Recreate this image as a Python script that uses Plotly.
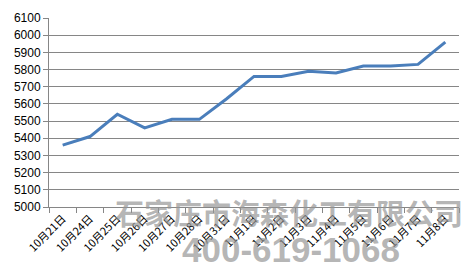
import plotly.graph_objects as go

dates = ["10月21日", "10月24日", "10月25日", "10月26日", "10月27日", "10月28日",
         "10月31日", "11月1日", "11月2日", "11月3日", "11月4日", "11月5日",
         "11月6日", "11月7日", "11月8日"]
prices = [5360, 5410, 5540, 5460, 5510, 5510, 5630, 5760, 5760, 5790, 5780,
          5820, 5820, 5830, 5960]
y_ticks = list(range(5000, 6101, 100))
watermark_name = "石家庄市海森化工有限公司"
watermark_phone = "400-619-1068"

fig = go.Figure()
fig.add_trace(go.Scatter(
    x=dates, y=prices, mode="lines",
    line=dict(color="#4a7ebb", width=3),
    hoverinfo="skip",
))

fig.update_layout(
    width=471, height=271,
    margin=dict(l=49, r=12, t=11, b=64),
    paper_bgcolor="white", plot_bgcolor="white",
    showlegend=False,
    font=dict(family="Liberation Sans, Arial, sans-serif", color="#000000", size=11),
)
fig.update_xaxes(
    type="category",
    range=[-0.5, len(dates) - 0.5],
    tickangle=-45,
    tickson="boundaries",
    ticks="outside", ticklen=5, tickcolor="#868686",
    showline=True, linecolor="#868686", linewidth=1,
    showgrid=False,
    tickfont=dict(family="Noto Sans CJK SC, Liberation Sans, sans-serif", size=11, color="#000000"),
)
fig.update_yaxes(
    range=[5000, 6100],
    tickvals=y_ticks,
    ticks="outside", ticklen=5, tickcolor="#868686",
    showline=True, linecolor="#868686", linewidth=1,
    showgrid=True, gridcolor="#868686", gridwidth=1,
    zeroline=False,
    tickfont=dict(family="Liberation Sans, Arial, sans-serif", size=12, color="#000000"),
)

fig.add_annotation(
    text="<b>" + watermark_name + "</b>",
    xref="paper", yref="paper", x=(289 - 49) / 410, y=(207 - 212) / 196,
    xanchor="center", yanchor="middle", showarrow=False,
    font=dict(family="Noto Sans CJK SC", size=29, color="rgba(150,150,150,0.7)"),
)
fig.add_annotation(
    text="<b>" + watermark_phone + "</b>",
    xref="paper", yref="paper", x=(291 - 49) / 410, y=(207 - 251) / 196,
    xanchor="center", yanchor="middle", showarrow=False,
    font=dict(family="Liberation Sans, Arial, sans-serif", size=35, color="rgba(150,150,150,0.7)"),
)

fig.write_html("out.html")
